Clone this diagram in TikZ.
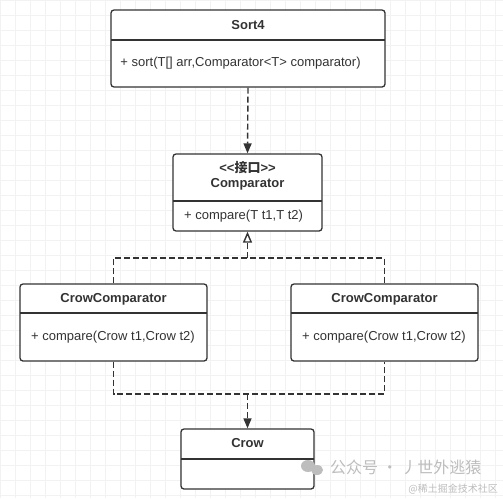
\documentclass[tikz,border=0pt]{standalone}
\usepackage{fontspec}
\setmainfont{Liberation Sans}
\newfontfamily\cjk{Noto Sans CJK SC}
\usetikzlibrary{arrows.meta}
\definecolor{edge}{HTML}{333333}
\definecolor{gridc}{HTML}{F2F2F2}
\definecolor{wm}{HTML}{BDBDBD}
\tikzset{
  umlbox/.style={draw=edge, line width=1.3pt, rounded corners=3pt, fill=white, inner sep=0pt},
  divider/.style={draw=edge, line width=1.3pt},
  title/.style={font=\fontsize{13}{15}\selectfont\bfseries, text=edge, inner sep=0pt},
  member/.style={font=\fontsize{13}{15}\selectfont, text=edge, inner sep=0pt},
  dep/.style={draw=edge, line width=1.4pt, dash pattern=on 6pt off 3pt},
  tipfill/.style={-{Triangle[length=10pt,width=8pt,fill=edge]}},
  tipopen/.style={-{Triangle[open,length=11pt,width=9pt,fill=white]}},
}
\begin{document}
\begin{tikzpicture}[x=1pt,y=-1pt]
\useasboundingbox (0,0) rectangle (503,498);
\fill[white] (0,0) rectangle (503,498);
% background grid
\foreach \i in {0,15,...,495} {
  \draw[gridc, line width=0.6pt] (\i,0) -- (\i,498);
  \draw[gridc, line width=0.6pt] (0,\i) -- (503,\i);
}
% Sort4
\node[umlbox, minimum width=274pt, minimum height=77pt] (sort) at (248,48.5) {};
\draw[divider] (111,40) -- (385,40);
\node[title] (sortt) at (248,25) {Sort4};
\node[member] (sortm) at (240.5,63) {+ sort(T[] arr,Comparator<T> comparator)};
% Comparator
\node[umlbox, minimum width=149pt, minimum height=77pt] (comp) at (247.5,192.5) {};
\draw[divider] (173,201) -- (322,201);
\node[title] (compst) at (247.5,168) {<\kern0pt<{\cjk 接口}>\kern0pt>};
\node[title] (compt) at (247.5,184.5) {Comparator};
\node[member, anchor=west] (compm) at (184,216) {+ compare(T t1,T t2)};
% CrowComparator left
\node[umlbox, minimum width=187pt, minimum height=77pt] (ccl) at (113.5,322.5) {};
\draw[divider] (20,313) -- (207,313);
\node[title] (cclt) at (113.5,299) {CrowComparator};
\node[member] (cclm) at (113,337) {+ compare(Crow t1,Crow t2)};
% CrowComparator right
\node[umlbox, minimum width=187pt, minimum height=77pt] (ccr) at (384.5,322.5) {};
\draw[divider] (291,313) -- (478,313);
\node[title] (ccrt) at (384.5,299) {CrowComparator};
\node[member] (ccrm) at (384,337) {+ compare(Crow t1,Crow t2)};
% Crow
\node[umlbox, minimum width=133pt, minimum height=60pt] (crow) at (247.5,459) {};
\draw[divider] (181,459) -- (314,459);
\node[title] (crowt) at (247.5,443.5) {Crow};
% connectors
\coordinate (jt) at (247.5,258);
\coordinate (jb) at (247.5,394);
\draw[dep, tipfill] (sort.south) -- (comp.north);
\draw[dep] (ccl.north) |- (jt) -| (ccr.north);
\draw[dep, tipopen] (jt) -- (comp.south);
\draw[dep] (ccl.south) |- (jb) -| (ccr.south);
\draw[dep, tipfill] (jb) -- (crow.north);
% watermark
\fill[wm] (308,466) ellipse (7pt and 6pt);
\fill[wm] (317,470) ellipse (6pt and 5pt);
\node[text=wm, font=\cjk\fontsize{16}{18}\selectfont, anchor=west, inner sep=0pt] (wm1) at (330,467) {公众号 · 丿世外逃猿};
\node[text=wm, font=\cjk\fontsize{10}{12}\selectfont, anchor=east, inner sep=0pt] (wm2) at (498,489) {@稀土掘金技术社区};
\end{tikzpicture}
\end{document}
